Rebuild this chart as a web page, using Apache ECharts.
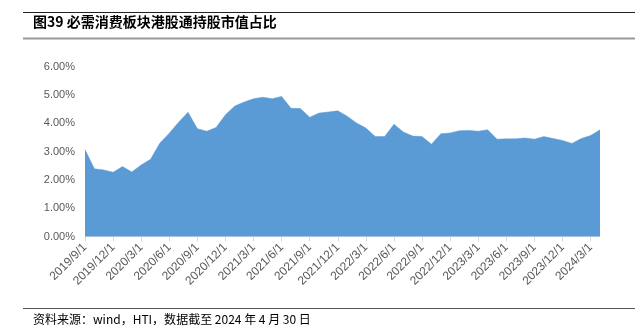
<!DOCTYPE html>
<html><head><meta charset="utf-8">
<script src="https://cdn.jsdelivr.net/npm/echarts@6/dist/echarts.min.js"></script>
<style>html,body{margin:0;padding:0;background:#fff}#c{width:643px;height:336px}</style>
</head><body><div id="c"></div>
<script>
const categories = [
'2019/9/1','2019/10/1','2019/11/1','2019/12/1','2020/1/1','2020/2/1','2020/3/1','2020/4/1','2020/5/1','2020/6/1','2020/7/1','2020/8/1',
'2020/9/1','2020/10/1','2020/11/1','2020/12/1','2021/1/1','2021/2/1','2021/3/1','2021/4/1','2021/5/1','2021/6/1','2021/7/1','2021/8/1',
'2021/9/1','2021/10/1','2021/11/1','2021/12/1','2022/1/1','2022/2/1','2022/3/1','2022/4/1','2022/5/1','2022/6/1','2022/7/1','2022/8/1',
'2022/9/1','2022/10/1','2022/11/1','2022/12/1','2023/1/1','2023/2/1','2023/3/1','2023/4/1','2023/5/1','2023/6/1','2023/7/1','2023/8/1',
'2023/9/1','2023/10/1','2023/11/1','2023/12/1','2024/1/1','2024/2/1','2024/3/1','2024/4/1'];
const shareValues = [
3.07,2.39,2.35,2.27,2.47,2.28,2.53,2.73,3.30,3.65,4.04,4.39,
3.81,3.72,3.85,4.30,4.61,4.75,4.87,4.92,4.87,4.95,4.53,4.52,
4.21,4.36,4.40,4.44,4.25,4.01,3.83,3.53,3.53,3.97,3.69,3.55,
3.53,3.26,3.63,3.66,3.74,3.75,3.72,3.77,3.44,3.45,3.45,3.48,
3.44,3.53,3.46,3.39,3.29,3.46,3.57,3.77];
const titleText = '图39 必需消费板块港股通持股市值占比';
const footerText = '资料来源：wind，HTI，数据截至 2024 年 4 月 30 日';

const chart = echarts.init(document.getElementById('c'), null, {renderer:'canvas'});
chart.setOption({
  animation:false,
  backgroundColor:'#fff',
  title:{text:titleText,left:28,top:10,textStyle:{fontFamily:'"Noto Sans CJK SC"',fontSize:14,fontWeight:'bold',color:'#000'}},
  graphic:[
    {type:'line',shape:{x1:23,y1:12.5,x2:635,y2:12.5},style:{stroke:'#222',lineWidth:1}},
    {type:'line',shape:{x1:23,y1:38.5,x2:635,y2:38.5},style:{stroke:'#999',lineWidth:2}},
    {type:'line',shape:{x1:23,y1:308.5,x2:635,y2:308.5},style:{stroke:'#555',lineWidth:1}},
    {type:'text',left:33,top:313,style:{text:footerText,font:'12px "Noto Sans CJK SC"',fill:'#000'}}
  ],
  grid:{left:85,right:43,top:66.7,bottom:99.5,containLabel:false},
  xAxis:{type:'category',data:categories,boundaryGap:false,
    axisLine:{lineStyle:{color:'#D9D9D9'}},
    axisTick:{interval:2,length:5,lineStyle:{color:'#D9D9D9'}},
    axisLabel:{interval:2,rotate:45,fontSize:12,color:'#595959',fontFamily:'Arial, "Liberation Sans"',margin:9}},
  yAxis:{type:'value',min:0,max:6,interval:1,
    axisLine:{show:false},axisTick:{show:false},splitLine:{show:false},
    axisLabel:{formatter:v=>v.toFixed(2)+'%',fontSize:11,color:'#595959',fontFamily:'Arial, "Liberation Sans"',margin:10}},
  series:[{type:'line',data:shareValues,symbol:'none',
    lineStyle:{width:0.5,color:'#5B9BD5'},areaStyle:{color:'#5B9BD5',opacity:1}}]
});
</script></body></html>
